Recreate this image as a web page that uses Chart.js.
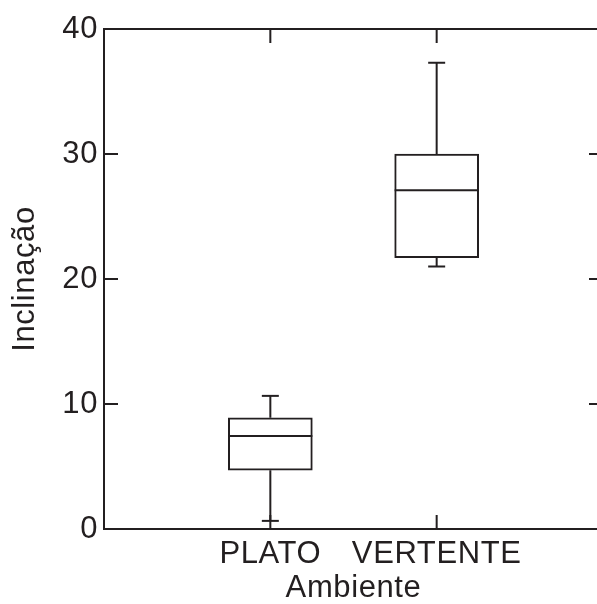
<!DOCTYPE html>
<html>
<head>
<meta charset="utf-8">
<title>Inclinação por ambiente</title>
<script src="https://cdn.jsdelivr.net/npm/chart.js@4.4.1/dist/chart.umd.min.js"></script>
<style>
  html, body { margin: 0; padding: 0; background: #fff; overflow: hidden; }
  canvas { display: block; }
</style>
</head>
<body>
<canvas id="chart-inclinacao" width="606" height="604"></canvas>
<script>
// dados
const ambientes = ['PLATO', 'VERTENTE'];
const posicoes = [1, 2];
const minimos = [0.65, 21.0];
const quartil1 = [4.7, 21.7];
const medianas = [7.45, 27.1];
const quartil3 = [8.9, 30.0];
const maximos = [10.65, 37.3];
const yTicks = [0, 10, 20, 30, 40];

const corLinha = '#231f20';
const fonte = 'Liberation Sans, Arial, Helvetica, sans-serif';

const caixas = document.getElementById('chart-inclinacao');

// o texto original é um pouco mais espaçado
const espacamento = {
    id: 'espacamento',
    beforeLayout(chart) { chart.ctx.letterSpacing = '0.6px'; },
    beforeDraw(chart) { chart.ctx.letterSpacing = '0.6px'; }
};

// bigodes, medianas, moldura e marcas internas
const boxPlugin = {
    id: 'boxWhiskers',
    afterDatasetsDraw(chart) {
        const {ctx, scales: {x, y}} = chart;
        const bars = chart.getDatasetMeta(0).data;
        const linha = (x1, y1, x2, y2) => {
            ctx.beginPath();
            ctx.moveTo(x1, y1);
            ctx.lineTo(x2, y2);
            ctx.stroke();
        };
        ctx.save();
        ctx.strokeStyle = corLinha;
        ctx.lineWidth = 2;
        ambientes.forEach((nome, i) => {
            const cx = x.getPixelForValue(posicoes[i]);
            const half = bars[i].width / 2;
            const cap = 8.5;
            const yMed = y.getPixelForValue(medianas[i]);
            const yQ1 = y.getPixelForValue(quartil1[i]);
            const yQ3 = y.getPixelForValue(quartil3[i]);
            const yMin = y.getPixelForValue(minimos[i]);
            const yMax = y.getPixelForValue(maximos[i]);
            linha(cx - half, yMed, cx + half, yMed);
            linha(cx, yQ3, cx, yMax);
            linha(cx - cap, yMax, cx + cap, yMax);
            linha(cx, yQ1, cx, yMin);
            linha(cx - cap, yMin, cx + cap, yMin);
        });
        ctx.restore();
    },
    afterDraw(chart) {
        const {ctx, chartArea: a, scales: {x, y}} = chart;
        const tick = 14;
        ctx.save();
        ctx.strokeStyle = corLinha;
        ctx.lineWidth = 2;
        ctx.strokeRect(a.left, a.top, a.right - a.left, a.bottom - a.top);
        ctx.beginPath();
        y.ticks.forEach(t => {
            const py = y.getPixelForValue(t.value);
            ctx.moveTo(a.left, py); ctx.lineTo(a.left + tick, py);
            ctx.moveTo(a.right - tick, py); ctx.lineTo(a.right, py);
        });
        x.ticks.forEach(t => {
            const px = x.getPixelForValue(t.value);
            ctx.moveTo(px, a.bottom); ctx.lineTo(px, a.bottom - tick);
            ctx.moveTo(px, a.top); ctx.lineTo(px, a.top + tick);
        });
        ctx.stroke();
        ctx.restore();
    }
};

new Chart(caixas, {
    type: 'bar',
    data: {
        datasets: [{
            label: 'Inclinação',
            data: posicoes.map((p, i) => ({x: p, y: [quartil1[i], quartil3[i]]})),
            backgroundColor: '#ffffff',
            borderColor: corLinha,
            borderWidth: 2,
            borderSkipped: false,
            barThickness: 84,
        }]
    },
    options: {
        responsive: false,
        animation: false,
        devicePixelRatio: 1,
        layout: {
            padding: {left: 0, top: 29, right: 3, bottom: 0}
        },
        plugins: {
            legend: {display: false},
            tooltip: {enabled: false}
        },
        scales: {
            x: {
                type: 'linear',
                min: 0,
                max: 3,
                offset: false,
                afterBuildTicks: (scale) => {
                    scale.ticks = posicoes.map(v => ({value: v}));
                },
                afterFit: (scale) => { scale.height = 75; },
                grid: {display: false, drawTicks: false, offset: false},
                border: {display: false},
                ticks: {
                    color: corLinha,
                    padding: 10,
                    maxRotation: 0,
                    font: {family: fonte, size: 31, lineHeight: 1},
                    callback: (v) => ambientes[posicoes.indexOf(v)] || ''
                },
                title: {
                    display: true,
                    text: 'Ambiente',
                    color: corLinha,
                    padding: {top: 0, bottom: 0},
                    font: {family: fonte, size: 31, lineHeight: 1}
                }
            },
            y: {
                min: 0,
                max: 40,
                afterBuildTicks: (scale) => {
                    scale.ticks = yTicks.map(v => ({value: v}));
                },
                afterFit: (scale) => { scale.width = 104; },
                grid: {display: false, drawTicks: false},
                border: {display: false},
                ticks: {
                    color: corLinha,
                    padding: 6,
                    font: {family: fonte, size: 31, lineHeight: 1}
                },
                title: {
                    display: true,
                    text: 'Inclinação',
                    color: corLinha,
                    padding: {top: 10, bottom: 0},
                    font: {family: fonte, size: 31, lineHeight: 1}
                }
            }
        }
    },
    plugins: [espacamento, boxPlugin]
});
</script>
</body>
</html>
